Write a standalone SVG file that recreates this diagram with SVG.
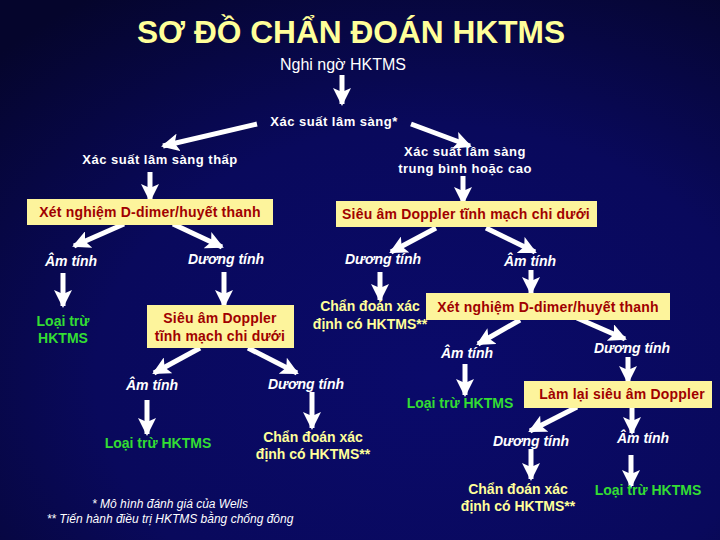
<svg xmlns="http://www.w3.org/2000/svg" width="720" height="540" viewBox="0 0 720 540">
<defs>
<radialGradient id="bg" cx="0.6" cy="0.7" r="0.85">
<stop offset="0" stop-color="#0a0a6a"/>
<stop offset="0.55" stop-color="#09095c"/>
<stop offset="1" stop-color="#05052c"/>
</radialGradient>
<marker id="ah" markerUnits="userSpaceOnUse" markerWidth="18" markerHeight="18" viewBox="0 0 18 18" refX="16" refY="9" orient="auto">
<path d="M0,0 L18,9 L0,18 L4,9 z" fill="#ffffff"/>
</marker>
<style>
.t{font-family:"Liberation Sans",Arial,sans-serif;}
.w{fill:#ffffff;font-weight:bold;font-size:13px;letter-spacing:0.5px;}
.wn{fill:#ffffff;font-size:16px;}
.i{fill:#ffffff;font-weight:bold;font-style:italic;font-size:14px;}
.y{fill:#ffff99;font-weight:bold;font-size:14px;}
.g{fill:#33dd33;font-weight:bold;font-size:14px;}
.r{fill:#a00000;font-weight:bold;font-size:14px;letter-spacing:0.2px;}
.box{fill:#fdf49c;}
.fn{fill:#ffffff;font-style:italic;font-size:12px;}
.a{stroke:#ffffff;stroke-width:5;fill:none;marker-end:url(#ah);}
</style>
</defs>
<rect x="0" y="0" width="720" height="540" fill="url(#bg)"/>
<text class="t" x="351" y="43" text-anchor="middle" font-size="31" font-weight="bold" fill="#ffff99" textLength="428" lengthAdjust="spacingAndGlyphs">SƠ ĐỒ CHẨN ĐOÁN HKTMS</text>

<g id="connectors">
<line class="a" x1="342" y1="75" x2="342" y2="104"/>
<line class="a" x1="257" y1="124" x2="163" y2="146"/>
<line class="a" x1="411" y1="124" x2="470" y2="146"/>
<line class="a" x1="150" y1="172" x2="150" y2="200"/>
<line class="a" x1="463" y1="176" x2="463" y2="203"/>
<line class="a" x1="124" y1="224" x2="74" y2="246"/>
<line class="a" x1="173" y1="224" x2="222" y2="247"/>
<line class="a" x1="436" y1="228" x2="391" y2="252"/>
<line class="a" x1="486" y1="228" x2="535" y2="252"/>
<line class="a" x1="63" y1="273" x2="63" y2="306"/>
<line class="a" x1="224" y1="272" x2="224" y2="306"/>
<line class="a" x1="380" y1="272" x2="380" y2="300"/>
<line class="a" x1="531" y1="270" x2="531" y2="293"/>
<line class="a" x1="520" y1="320" x2="478" y2="344"/>
<line class="a" x1="577" y1="318" x2="625" y2="339"/>
<line class="a" x1="465" y1="364" x2="465" y2="395"/>
<line class="a" x1="628" y1="357" x2="628" y2="382"/>
<line class="a" x1="200" y1="348" x2="154" y2="373"/>
<line class="a" x1="248" y1="348" x2="297" y2="373"/>
<line class="a" x1="147" y1="400" x2="147" y2="434"/>
<line class="a" x1="312" y1="392" x2="312" y2="428"/>
<line class="a" x1="577" y1="407" x2="530" y2="431"/>
<line class="a" x1="632" y1="407" x2="632" y2="433"/>
<line class="a" x1="531" y1="449" x2="531" y2="479"/>
<line class="a" x1="631" y1="455" x2="631" y2="486"/>
</g>

<g id="n-nghingo"><text class="t wn" x="343" y="70" text-anchor="middle">Nghi ngờ HKTMS</text></g>
<g id="n-xacsuat"><text class="t w" x="334" y="126" text-anchor="middle">Xác suất lâm sàng*</text></g>
<g id="n-thap"><text class="t w" x="160" y="164" text-anchor="middle">Xác suất lâm sàng thấp</text></g>
<g id="n-cao">
<text class="t w" x="465" y="156" text-anchor="middle">Xác suất lâm sàng</text>
<text class="t w" x="465" y="173" text-anchor="middle">trung bình hoặc cao</text>
</g>
<g id="n-ddimer1">
<rect class="box" x="27" y="199" width="246" height="26"/>
<text class="t r" x="150" y="217" text-anchor="middle">Xét nghiệm D-dimer/huyết thanh</text>
</g>
<g id="n-doppler1">
<rect class="box" x="336" y="201" width="261" height="26"/>
<text class="t r" x="466" y="219" text-anchor="middle">Siêu âm Doppler tĩnh mạch chi dưới</text>
</g>
<g id="n-am1"><text class="t i" x="71" y="266" text-anchor="middle">Âm tính</text></g>
<g id="n-duong1"><text class="t i" x="226" y="264" text-anchor="middle">Dương tính</text></g>
<g id="n-duong2"><text class="t i" x="383" y="264" text-anchor="middle">Dương tính</text></g>
<g id="n-am2"><text class="t i" x="530" y="266" text-anchor="middle">Âm tính</text></g>
<g id="n-loaitru1">
<text class="t g" x="63" y="326" text-anchor="middle">Loại trừ</text>
<text class="t g" x="63" y="343" text-anchor="middle">HKTMS</text>
</g>
<g id="n-doppler2">
<rect class="box" x="147" y="305" width="147" height="43"/>
<text class="t r" x="220" y="323" text-anchor="middle">Siêu âm Doppler</text>
<text class="t r" x="220" y="341" text-anchor="middle">tĩnh mạch chi dưới</text>
</g>
<g id="n-chandoan1">
<text class="t y" x="370" y="311" text-anchor="middle">Chẩn đoán xác</text>
<text class="t y" x="370" y="329" text-anchor="middle">định có HKTMS**</text>
</g>
<g id="n-ddimer2">
<rect class="box" x="426" y="293" width="244" height="27"/>
<text class="t r" x="548" y="312" text-anchor="middle">Xét nghiệm D-dimer/huyết thanh</text>
</g>
<g id="n-am3"><text class="t i" x="467" y="358" text-anchor="middle">Âm tính</text></g>
<g id="n-duong3"><text class="t i" x="632" y="353" text-anchor="middle">Dương tính</text></g>
<g id="n-am4"><text class="t i" x="152" y="390" text-anchor="middle">Âm tính</text></g>
<g id="n-duong4"><text class="t i" x="306" y="389" text-anchor="middle">Dương tính</text></g>
<g id="n-loaitru2"><text class="t g" x="460" y="408" text-anchor="middle">Loại trừ HKTMS</text></g>
<g id="n-lamlai">
<rect class="box" x="524" y="381" width="188" height="27"/>
<text class="t r" x="622" y="399" text-anchor="middle">Làm lại siêu âm Doppler</text>
</g>
<g id="n-loaitru3"><text class="t g" x="158" y="448" text-anchor="middle">Loại trừ HKTMS</text></g>
<g id="n-chandoan2">
<text class="t y" x="313" y="442" text-anchor="middle">Chẩn đoán xác</text>
<text class="t y" x="313" y="459" text-anchor="middle">định có HKTMS**</text>
</g>
<g id="n-duong5"><text class="t i" x="531" y="446" text-anchor="middle">Dương tính</text></g>
<g id="n-am5"><text class="t i" x="643" y="443" text-anchor="middle">Âm tính</text></g>
<g id="n-chandoan3">
<text class="t y" x="518" y="494" text-anchor="middle">Chẩn đoán xác</text>
<text class="t y" x="518" y="511" text-anchor="middle">định có HKTMS**</text>
</g>
<g id="n-loaitru4"><text class="t g" x="648" y="495" text-anchor="middle">Loại trừ HKTMS</text></g>
<g id="n-footnotes">
<text class="t fn" x="170" y="508" text-anchor="middle">* Mô hình đánh giá của Wells</text>
<text class="t fn" x="170" y="523" text-anchor="middle">** Tiến hành điều trị HKTMS bằng chống đông</text>
</g>
</svg>
